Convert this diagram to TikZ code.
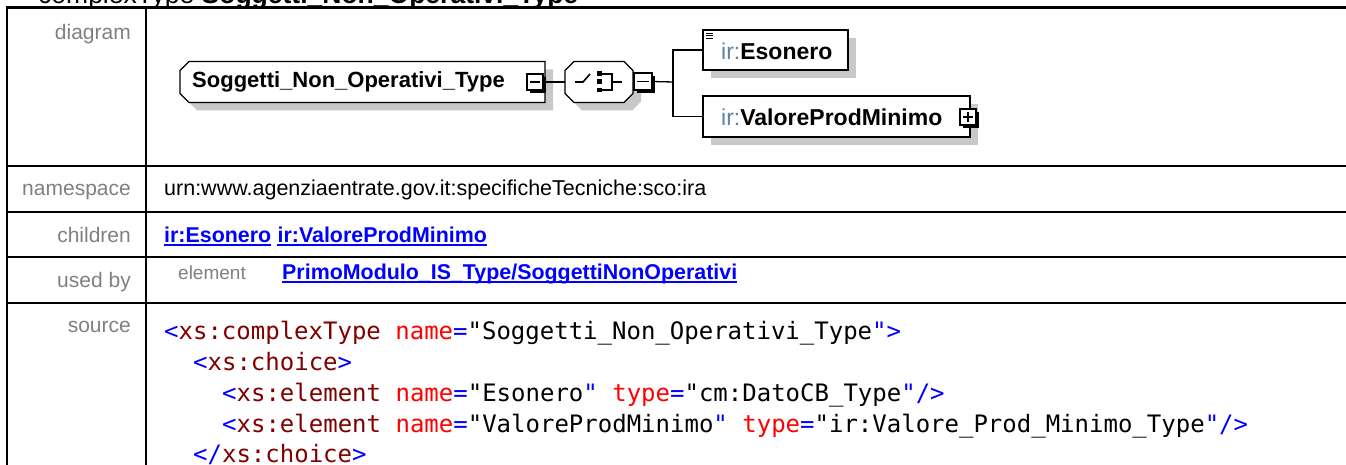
\documentclass[tikz,border=0pt]{standalone}
\usepackage{fontspec}
\setmainfont{Liberation Sans}
\newfontfamily\codefont{DejaVu Sans Mono}
\usetikzlibrary{shadows,calc}
\definecolor{labelgrey}{RGB}{128,128,128}
\definecolor{linkblue}{RGB}{0,0,255}
\definecolor{tagblue}{RGB}{0,0,255}
\definecolor{tagred}{RGB}{128,0,0}
\definecolor{attrred}{RGB}{255,0,0}
\definecolor{nsblue}{RGB}{95,130,160}
\definecolor{shadowgrey}{RGB}{200,200,200}
\newcommand{\tb}[1]{\textcolor{tagblue}{#1}}
\newcommand{\tr}[1]{\textcolor{tagred}{#1}}
\newcommand{\ta}[1]{\textcolor{attrred}{#1}}
\newcommand{\ctpath}[2]{($(#1.north west)+(#2,0)$) -- (#1.north east) -- (#1.south east) -- ($(#1.south west)+(#2,0)$) -- ($(#1.south west)+(0,-#2)$) -- ($(#1.north west)+(0,#2)$) -- cycle}
\newcommand{\octpath}[2]{($(#1.north west)+(#2,0)$) -- ($(#1.north east)+(-#2,0)$) -- ($(#1.north east)+(0,#2)$) -- ($(#1.south east)+(0,-#2)$) -- ($(#1.south east)+(-#2,0)$) -- ($(#1.south west)+(#2,0)$) -- ($(#1.south west)+(0,-#2)$) -- ($(#1.north west)+(0,#2)$) -- cycle}
\tikzset{
  tbl/.style={line width=2.2pt, black},
  lbl/.style={anchor=base east, inner sep=0, text=labelgrey, font=\fontsize{21}{25}\selectfont},
  val/.style={anchor=base west, inner sep=0, font=\fontsize{21.5}{25}\selectfont},
  lnk/.style={anchor=base west, inner sep=0, text=linkblue, font=\fontsize{21.4}{25}\selectfont\bfseries},
  codeline/.style={anchor=base west, inner sep=0, font=\codefont\fontsize{24}{32}\selectfont},
  shad/.style={drop shadow={shadow xshift=8pt, shadow yshift=-8pt, fill=shadowgrey, opacity=1}},
  shapebox/.style={rectangle, draw=none, inner sep=0, outer sep=0},
  outline/.style={draw=black, line width=1.3pt, fill=white, shad},
  elbox/.style={rectangle, draw, line width=1.3pt, fill=white, inner sep=0, outer sep=0, shad},
  expander/.style={rectangle, draw, line width=1.3pt, fill=white, minimum width=16pt, minimum height=16pt, inner sep=0, outer sep=0,
    drop shadow={shadow xshift=3pt, shadow yshift=-3pt, fill=black, opacity=1}},
  eltext/.style={anchor=west, inner sep=0, font=\fontsize{23}{27}\selectfont},
  conn/.style={line width=1.3pt, black},
  icon/.style={line width=1.6pt, black},
}
\begin{document}
\begin{tikzpicture}[x=1pt,y=-1pt]
\useasboundingbox (0,0) rectangle (1346,465);
\clip (0,0) rectangle (1346,465);
% title
\node[anchor=base west, inner sep=0, font=\fontsize{26.5}{30}\selectfont] (title) at (38,4) {complexType \textbf{Soggetti\_Non\_Operativi\_Type}};
% table
\draw[tbl] (7,470) -- (7,7.5) -- (1350,7.5);
\draw[tbl] (146,7.5) -- (146,470);
\draw[tbl] (7,165.7) -- (1350,165.7);
\draw[tbl] (7,211.7) -- (1350,211.7);
\draw[tbl] (7,256.7) -- (1350,256.7);
\draw[tbl] (7,302.7) -- (1350,302.7);
% labels
\node[lbl] (l1) at (131,40) {diagram};
\node[lbl] (l2) at (131,196) {namespace};
\node[lbl] (l3) at (131,242) {children};
\node[lbl] (l4) at (131,287) {used by};
\node[lbl] (l5) at (131,332) {source};
% values
\node[val] (ns) at (164,196) {urn:www.agenziaentrate.gov.it:specificheTecniche:sco:ira};
\node[lnk] (c1) at (164,242) {ir:Esonero};
\node[lnk, anchor=base west] (c2) at ($(c1.base east)+(6,0)$) {ir:ValoreProdMinimo};
\draw[linkblue, line width=1.6pt] ($(c1.base west)+(0,3)$) -- ($(c1.base east)+(0,3)$);
\draw[linkblue, line width=1.6pt] ($(c2.base west)+(0,3)$) -- ($(c2.base east)+(0,3)$);
\node[val, text=labelgrey, font=\fontsize{19}{23}\selectfont] (ue) at (178,279) {element};
\node[lnk] (u1) at (282,279) {PrimoModulo\_IS\_Type/SoggettiNonOperativi};
\draw[linkblue, line width=1.6pt] ($(u1.base west)+(0,3)$) -- ($(u1.base east)+(0,3)$);
% source code
\node[codeline] (s1) at (164,339) {\tb{<}\tr{xs:complexType} \ta{name}\tb{=}"Soggetti\_Non\_Operativi\_Type\tb{">}};
\node[codeline] (s2) at (193,370) {\tb{<}\tr{xs:choice}\tb{>}};
\node[codeline] (s3) at (222,401) {\tb{<}\tr{xs:element} \ta{name}\tb{=}"Esonero\tb{"} \ta{type}\tb{=}"cm:DatoCB\_Type\tb{"/>}};
\node[codeline] (s4) at (222,432) {\tb{<}\tr{xs:element} \ta{name}\tb{=}"ValoreProdMinimo\tb{"} \ta{type}\tb{=}"ir:Valore\_Prod\_Minimo\_Type\tb{"/>}};
\node[codeline] (s5) at (193,462) {\tb{</}\tr{xs:choice}\tb{>}};
% diagram: complex type box
\node[shapebox, minimum width=365pt, minimum height=41pt] (sog) at (362.5,82) {};
\path[outline] \ctpath{sog}{9};
\node[eltext, font=\fontsize{22}{26}\selectfont\bfseries] (sogt) at (192,82) {Soggetti\_Non\_Operativi\_Type};
\node[expander] (sogm) at (535,82) {};
\draw[line width=1.4pt] ($(sogm.center)+(-5,0)$) -- ($(sogm.center)+(5,0)$);
% choice
\node[shapebox, minimum width=68pt, minimum height=41pt] (ch) at (599,82) {};
\path[outline] \octpath{ch}{9};
\node[expander, minimum width=18pt, minimum height=17pt] (chm) at (643,81.5) {};
\draw[line width=1.4pt] ($(chm.center)+(-6,0)$) -- ($(chm.center)+(6,0)$);
% choice icon
\draw[icon] (575,82) -- (583,82) -- (590,74);
\fill (597,71.5) rectangle (602,76);
\fill (597,79.5) rectangle (602,84.5);
\fill (597,88) rectangle (602,92.5);
\draw[icon] (602,74) -- (612,74) -- (612,90) -- (602,90);
\draw[icon] (612,82) -- (622,82);
% children
\node[elbox, minimum width=145pt, minimum height=40pt] (es) at (775.5,50) {};
\node[eltext] (est) at (721,51) {\textcolor{nsblue}{ir:}\textbf{Esonero}};
\draw[line width=1pt] (706,33.5) -- (713,33.5) (706,36) -- (713,36) (706,38.5) -- (713,38.5);
\node[elbox, minimum width=267pt, minimum height=41pt] (va) at (836.5,116.5) {};
\node[eltext] (vat) at (721,117) {\textcolor{nsblue}{ir:}\textbf{ValoreProdMinimo}};
\node[expander] (vap) at (968,117) {};
\draw[line width=1.4pt] ($(vap.center)+(-5,0)$) -- ($(vap.center)+(5,0)$) ($(vap.center)+(0,-5)$) -- ($(vap.center)+(0,5)$);
% connectors
\coordinate (j) at (673,82);
\draw[conn] (sogm.east) -- (ch.west);
\draw[conn] (chm.east) -- (j);
\draw[conn] (es.west) -| (j) |- (va.west);
\end{tikzpicture}
\end{document}
